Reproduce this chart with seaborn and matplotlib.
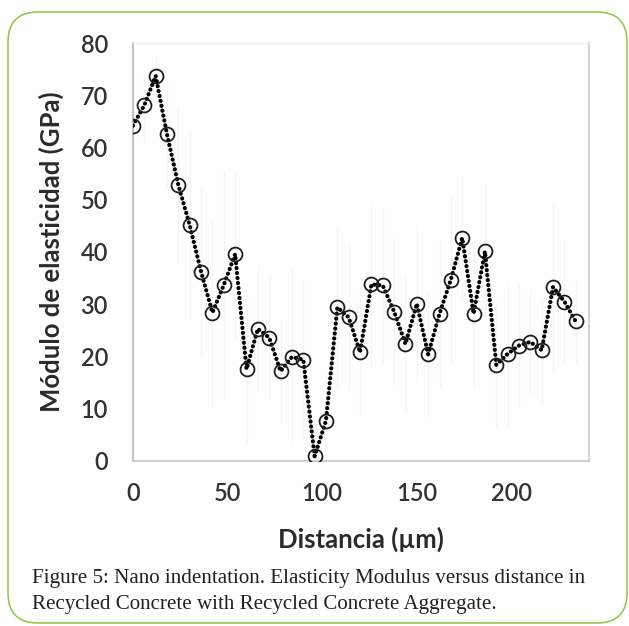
import matplotlib
matplotlib.use("Agg")
import matplotlib.pyplot as plt
from matplotlib.patches import FancyBboxPatch
import seaborn as sns
import pandas as pd

# Indentation positions along the traverse (µm) and measured elastic modulus (GPa)
distance_um = [0, 6, 12, 18, 24, 30, 36, 42, 48, 54,
               60, 66, 72, 78, 84, 90, 96, 102, 108, 114,
               120, 126, 132, 138, 144, 150, 156, 162, 168, 174,
               180, 186, 192, 198, 204, 210, 216, 222, 228, 234]
modulus_gpa = [64.2, 68.1, 73.7, 62.5, 52.8, 45.1, 36.2, 28.4, 33.7, 39.6,
               17.6, 25.3, 23.6, 17.2, 19.9, 19.4, 0.9, 7.7, 29.4, 27.5,
               20.8, 33.8, 33.6, 28.6, 22.4, 30.1, 20.4, 28.2, 34.7, 42.7,
               28.2, 40.1, 18.4, 20.5, 22.1, 22.8, 21.2, 33.3, 30.5, 26.7]
modulus_sd = [8, 7, 4, 10, 15, 18, 16, 18, 22, 16,
              14, 12, 12, 10, 17, 15, 6, 9, 15, 14,
              12, 16, 15, 14, 13, 15, 12, 14, 16, 12,
              14, 13, 12, 14, 12, 10, 10, 16, 12, 8]

x_ticks = [0, 50, 100, 150, 200]
y_ticks = [0, 10, 20, 30, 40, 50, 60, 70, 80]

df = pd.DataFrame({"Distancia": distance_um, "Modulo": modulus_gpa, "sd": modulus_sd})

sns.set_theme(style="white")
plt.rcParams["font.family"] = ["Lato", "DejaVu Sans"]

fig = plt.figure(figsize=(6.29, 6.26), dpi=100)
ax = fig.add_axes([0.2114, 0.2636, 0.725, 0.6677])

# faint standard-deviation bars behind the series
ax.errorbar(df["Distancia"], df["Modulo"], yerr=df["sd"], fmt="none",
            ecolor="#f5f5f5", elinewidth=0.9, capsize=0, zorder=1)

sns.lineplot(data=df, x="Distancia", y="Modulo", ax=ax, color="black",
             linewidth=3.0, linestyle=(0, (0.05, 1.15)), dash_capstyle="round",
             marker="o", markersize=10, markerfacecolor="none",
             markeredgecolor="#1e1e1e", markeredgewidth=1.3, zorder=3)

ax.set_xlim(0, 241)
ax.set_ylim(0, 80)
ax.set_xticks(x_ticks)
ax.set_yticks(y_ticks)
ax.tick_params(axis="both", which="major", direction="out", length=8,
               width=1, color="#c8c8c8", labelsize=17, labelcolor="#333333")
ax.tick_params(axis="y", pad=10)
ax.tick_params(axis="x", pad=7)
for lab in ax.get_xticklabels() + ax.get_yticklabels():
    lab.set_fontweight("semibold")

for side, col, lw in [("left", "#c4c4c4", 1.6), ("bottom", "#d0d0d0", 1.6),
                      ("right", "#d4d4d4", 1.6), ("top", "#f0f0f0", 1.0)]:
    ax.spines[side].set_visible(True)
    ax.spines[side].set_color(col)
    ax.spines[side].set_linewidth(lw)

ax.set_xlabel("Distancia (µm)", fontsize=18.5, fontweight="bold",
              color="#2a2a2a", labelpad=16)
ax.set_ylabel("Módulo de elasticidad (GPa)", fontsize=18.5, fontweight="bold",
              color="#2a2a2a", labelpad=12)
ax.grid(False)

# figure caption
cap_font = ["Liberation Serif", "DejaVu Serif"]
fig.text(32 / 629, 1 - 579 / 626,
         "Figure 5: Nano indentation. Elasticity Modulus versus distance in",
         fontsize=15.1, family=cap_font, color="#231f20", va="center", ha="left")
fig.text(32 / 629, 1 - 604 / 626,
         "Recycled Concrete with Recycled Concrete Aggregate.",
         fontsize=15.1, family=cap_font, color="#231f20", va="center", ha="left")

# rounded green frame around figure and caption
frame = FancyBboxPatch((0.08, 0.03), 6.19, 6.11,
                       boxstyle="round,pad=0,rounding_size=0.3",
                       transform=fig.dpi_scale_trans, fill=False,
                       edgecolor="#8dc63f", linewidth=1.1, zorder=0)
fig.patches.append(frame)

fig.savefig("out.png", dpi=100)
